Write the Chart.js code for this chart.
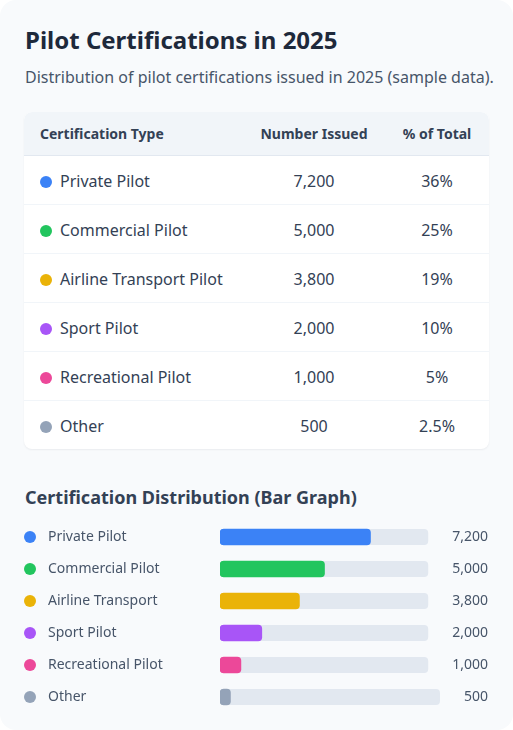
<!DOCTYPE html>
<html>
<head>
<meta charset="utf-8">
<script src="https://cdn.jsdelivr.net/npm/chart.js@4.4.1/dist/chart.umd.min.js"></script>
<style>
  html, body { margin: 0; padding: 0; background: #ffffff; }
  body { width: 513px; height: 730px; overflow: hidden; font-family: "Noto Sans", sans-serif; }
  .card { position: relative; width: 513px; height: 730px; background: #f8fafc; border-radius: 16px; box-sizing: border-box; }
  h1 { position: absolute; left: 25px; top: 24px; margin: 0; font-size: 24px; font-weight: 700; color: #1e293b; line-height: 32px; white-space: nowrap; }
  .sub { position: absolute; left: 25px; top: 65px; margin: 0; font-size: 16px; color: #475569; line-height: 24px; white-space: nowrap; }
  table { position: absolute; left: 24px; top: 112px; width: 465px; border-collapse: separate; border-spacing: 0; background: #fff; border-radius: 8px; box-shadow: 0 1px 2px rgba(15,23,42,0.06); table-layout: fixed; overflow: hidden; }
  th { background: #f1f5f9; font-size: 14px; font-weight: 700; color: #334155; height: 43px; padding: 0; border-bottom: 1px solid #e2e8f0; line-height: 20px; }
  th:first-child { border-top-left-radius: 8px; text-align: left; padding-left: 16px; }
  th:last-child { border-top-right-radius: 8px; }
  td { font-size: 16px; color: #334155; height: 46px; padding: 2px 0 0 0; text-align: center; border-bottom: 1px solid #f1f5f9; line-height: 22px; }
  tr:last-child td { border-bottom: none; }
  td:first-child { text-align: left; padding-left: 16px; }
  .dot { display: inline-block; width: 12px; height: 12px; border-radius: 50%; vertical-align: -1px; margin-right: 8px; }
  h2 { position: absolute; left: 25px; top: 484px; margin: 0; font-size: 18px; font-weight: 700; color: #334155; line-height: 26px; white-space: nowrap; }
  .chartbox { position: absolute; left: 0; top: 521px; width: 513px; height: 192px; }
</style>
</head>
<body>
<div class="card">
  <h1>Pilot Certifications in 2025</h1>
  <p class="sub">Distribution of pilot certifications issued in 2025 (sample data).</p>
  <table id="tbl">
    <colgroup><col style="width:219px"><col style="width:142px"><col style="width:104px"></colgroup>
    <thead><tr><th>Certification Type</th><th>Number Issued</th><th>% of Total</th></tr></thead>
    <tbody></tbody>
  </table>
  <h2>Certification Distribution (Bar Graph)</h2>
  <div class="chartbox"><canvas id="bars"></canvas></div>
</div>
<script>
// ---- data ----
const tableLabels = ["Private Pilot", "Commercial Pilot", "Airline Transport Pilot", "Sport Pilot", "Recreational Pilot", "Other"];
const barLabels = ["Private Pilot", "Commercial Pilot", "Airline Transport", "Sport Pilot", "Recreational Pilot", "Other"];
const issued = [7200, 5000, 3800, 2000, 1000, 500];
const pctOfTotal = [36, 25, 19, 10, 5, 2.5];
const colors = ["#3b82f6", "#22c55e", "#eab308", "#a855f7", "#ec4899", "#94a3b8"];
const scaleMax = 10000;

// ---- table ----
const tbody = document.querySelector('#tbl tbody');
tableLabels.forEach((name, i) => {
  const tr = document.createElement('tr');
  tr.innerHTML = '<td><span class="dot" style="background:' + colors[i] + '"></span>' + name + '</td>' +
    '<td>' + issued[i].toLocaleString('en-US') + '</td>' +
    '<td>' + pctOfTotal[i] + '%</td>';
  tbody.appendChild(tr);
});

// ---- bar chart ----
const FONT = '14px "Noto Sans", sans-serif';
const VALUE_RIGHT = 488;
const GAP = 24;
const rowDecor = {
  id: 'rowDecor',
  beforeDatasetsDraw(chart) {
    const ctx = chart.ctx, area = chart.chartArea, y = chart.scales.y;
    ctx.save();
    ctx.font = FONT;
    barLabels.forEach((lab, i) => {
      const cy = y.getPixelForValue(i);
      const txt = issued[i].toLocaleString('en-US');
      const w = ctx.measureText(txt).width;
      const end = VALUE_RIGHT - w - GAP;
      ctx.fillStyle = '#e2e8f0';
      ctx.beginPath();
      ctx.roundRect(area.left, cy - 8, end - area.left, 16, 4);
      ctx.fill();
    });
    ctx.restore();
  },
  afterDatasetsDraw(chart) {
    const ctx = chart.ctx, y = chart.scales.y;
    ctx.save();
    ctx.font = FONT;
    ctx.textBaseline = 'middle';
    barLabels.forEach((lab, i) => {
      const cy = y.getPixelForValue(i);
      ctx.fillStyle = colors[i];
      ctx.beginPath();
      ctx.arc(30, cy, 6, 0, Math.PI * 2);
      ctx.fill();
      ctx.fillStyle = '#475569';
      ctx.textAlign = 'left';
      ctx.fillText(lab, 48, cy + 0.5);
      ctx.textAlign = 'right';
      ctx.fillText(issued[i].toLocaleString('en-US'), VALUE_RIGHT, cy + 0.5);
    });
    ctx.restore();
  }
};

new Chart(document.getElementById('bars'), {
  type: 'bar',
  data: {
    labels: barLabels,
    datasets: [{
      data: issued,
      backgroundColor: colors,
      barThickness: 16,
      borderRadius: 4,
      borderSkipped: false
    }]
  },
  options: {
    indexAxis: 'y',
    responsive: true,
    maintainAspectRatio: false,
    animation: false,
    layout: { padding: { left: 220, right: 84, top: 0, bottom: 0 } },
    scales: {
      x: { display: false, min: 0, max: scaleMax },
      y: { display: false }
    },
    plugins: { legend: { display: false }, tooltip: { enabled: false } }
  },
  plugins: [rowDecor]
});
</script>
</body>
</html>
